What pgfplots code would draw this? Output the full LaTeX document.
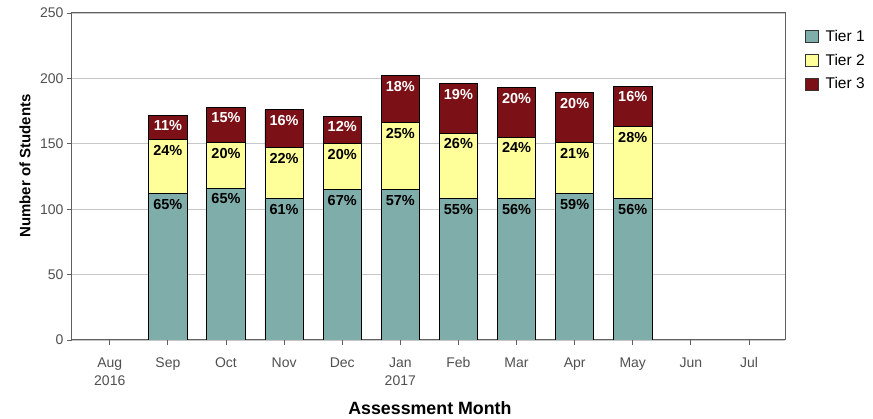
\documentclass[border=0pt]{standalone}
\usepackage{pgfplots}
\pgfplotsset{compat=1.18}
\usepackage{pgfplotstable}
\usepackage{fontspec}
\setmainfont{Liberation Sans}

\definecolor{tone}{HTML}{7FADAA}
\definecolor{ttwo}{HTML}{FFFF99}
\definecolor{tthree}{HTML}{7B1116}
\definecolor{tickgray}{HTML}{505050}
\definecolor{axgray}{HTML}{606060}

\pgfplotstableread{
x t1 p1 t2 p2 t3 p3
1 112 65 41 24 19 11
2 116 65 35 20 27 15
3 108 61 39 22 29 16
4 115 67 35 20 21 12
5 115 57 51 25 36 18
6 108 55 50 26 38 19
7 108 56 47 24 38 20
8 112 59 39 21 38 20
9 108 56 55 28 31 16
}\data

\begin{document}
\begin{tikzpicture}
\useasboundingbox (-72pt,-79pt) rectangle (801pt,340pt);
\begin{axis}[
  at={(0,0)}, anchor=south west,
  scale only axis, width=713pt, height=327pt,
  ybar stacked, bar width=0.66,
  xmin=-0.65, xmax=11.62, ymin=0, ymax=250,
  xtick={0,...,11},
  xticklabels={Aug\\2016,Sep,Oct,Nov,Dec,Jan\\2017,Feb,Mar,Apr,May,Jun,Jul},
  ytick={0,50,...,250},
  ymajorgrids, grid style={draw=black!22, line width=0.8pt},
  tick align=outside, tick pos=left, major tick length=5pt,
  tick style={draw=axgray, line width=0.8pt},
  axis line style={draw=axgray, line width=1pt},
  /pgf/number format/assume math mode=true,
  ticklabel style={text=tickgray, font=\fontsize{14}{18}\selectfont},
  xticklabel style={align=center, yshift=-9pt},
  xlabel={Assessment Month}, ylabel={Number of Students},
  xlabel style={font=\bfseries\fontsize{17.8}{20}\selectfont, at={(axis description cs:0.502,0)}, anchor=center, yshift=-68pt},
  ylabel style={font=\bfseries\fontsize{15}{17}\selectfont, at={(axis description cs:-0.066,0.532)}, anchor=center},
  point meta=explicit symbolic,
  visualization depends on={rawy \as \rawy},
  nodes near coords={\pgfplotspointmeta\%},
  every node near coord/.append style={anchor=north, font=\bfseries\fontsize{14.5}{16}\selectfont, inner sep=5pt, yshift={0.654pt*\rawy}},
  legend style={at={(1,1)}, anchor=north west, xshift=17pt, yshift=-13pt, draw=none, fill=none,
    font=\fontsize{15.5}{18}\selectfont, row sep=7pt, legend cell align=left,
    nodes={inner xsep=7pt}},
  legend image code/.code={\draw[#1, draw=black!80, line width=0.9pt] (0pt,-6pt) rectangle (12.5pt,6pt);},
]
\addplot[fill=tone, draw=black, line width=0.8pt, every node near coord/.append style={text=black}] table[x=x, y=t1, meta=p1] {\data};
\addplot[fill=ttwo, draw=black, line width=0.8pt, every node near coord/.append style={text=black}] table[x=x, y=t2, meta=p2] {\data};
\addplot[fill=tthree, draw=black, line width=0.8pt, every node near coord/.append style={text=white}] table[x=x, y=t3, meta=p3] {\data};
\legend{Tier 1, Tier 2, Tier 3}
\end{axis}
\end{tikzpicture}
\end{document}
